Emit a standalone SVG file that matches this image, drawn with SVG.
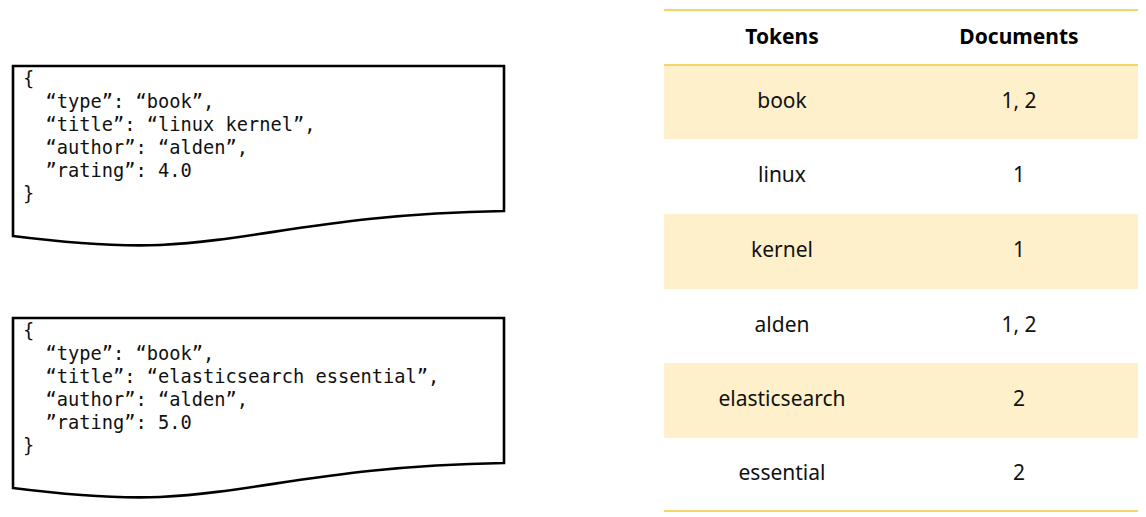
<svg xmlns="http://www.w3.org/2000/svg" width="1146" height="517" viewBox="0 0 1146 517">
  <style>
    .doc { fill: #ffffff; stroke: #000000; stroke-width: 2.6; stroke-linejoin: miter; }
    .code { font-family: "DejaVu Sans Mono", "Liberation Mono", monospace; font-size: 18.7px; fill: #111111; }
    .band { fill: #fef0cb; }
    .rule { stroke: #f5d46a; stroke-width: 2; }
    .head { font-family: "Noto Sans", "Open Sans", sans-serif; font-weight: bold; font-size: 21px; fill: #000000; text-anchor: middle; }
    .cell { font-family: "Noto Sans", "Open Sans", sans-serif; font-size: 21px; fill: #111111; text-anchor: middle; }
  </style>
  <rect width="1146" height="517" fill="#ffffff"/>

  <!-- document 1 -->
  <g id="doc1">
    <path class="doc" d="M13,66 L504,66 L504,211 C330,214 260,240 160,245 C110,247 60,242 13,236 Z"/>
    <text class="code" x="23" y="85">{</text>
    <text class="code" x="23" y="108" xml:space="preserve">  “type”: “book”,</text>
    <text class="code" x="23" y="131" xml:space="preserve">  “title”: “linux kernel”,</text>
    <text class="code" x="23" y="154" xml:space="preserve">  “author”: “alden”,</text>
    <text class="code" x="23" y="177" xml:space="preserve">  ”rating”: 4.0</text>
    <text class="code" x="23" y="200">}</text>
  </g>

  <!-- document 2 -->
  <g id="doc2">
    <path class="doc" d="M13,318 L504,318 L504,463 C330,466 260,492 160,497 C110,499 60,494 13,488 Z"/>
    <text class="code" x="23" y="337">{</text>
    <text class="code" x="23" y="360" xml:space="preserve">  “type”: “book”,</text>
    <text class="code" x="23" y="383" xml:space="preserve">  “title”: “elasticsearch essential”,</text>
    <text class="code" x="23" y="406" xml:space="preserve">  “author”: “alden”,</text>
    <text class="code" x="23" y="429" xml:space="preserve">  ”rating”: 5.0</text>
    <text class="code" x="23" y="452">}</text>
  </g>

  <!-- inverted index table -->
  <g id="index-table">
    <rect class="band" x="664" y="65" width="474" height="74"/>
    <rect class="band" x="664" y="214" width="474" height="75"/>
    <rect class="band" x="664" y="363" width="474" height="75"/>
    <line class="rule" x1="664" y1="10" x2="1138" y2="10"/>
    <line class="rule" x1="664" y1="65" x2="1138" y2="65"/>
    <line class="rule" x1="664" y1="511" x2="1138" y2="511"/>

    <text class="head" x="782" y="44">Tokens</text>
    <text class="head" x="1019" y="44">Documents</text>

    <g id="row-book">
      <text class="cell" x="782" y="108">book</text>
      <text class="cell" x="1019" y="108">1, 2</text>
    </g>
    <g id="row-linux">
      <text class="cell" x="782" y="182">linux</text>
      <text class="cell" x="1019" y="182">1</text>
    </g>
    <g id="row-kernel">
      <text class="cell" x="782" y="257">kernel</text>
      <text class="cell" x="1019" y="257">1</text>
    </g>
    <g id="row-alden">
      <text class="cell" x="782" y="332">alden</text>
      <text class="cell" x="1019" y="332">1, 2</text>
    </g>
    <g id="row-elasticsearch">
      <text class="cell" x="782" y="406">elasticsearch</text>
      <text class="cell" x="1019" y="406">2</text>
    </g>
    <g id="row-essential">
      <text class="cell" x="782" y="480">essential</text>
      <text class="cell" x="1019" y="480">2</text>
    </g>
  </g>
  <g id="connectors"/>
</svg>
